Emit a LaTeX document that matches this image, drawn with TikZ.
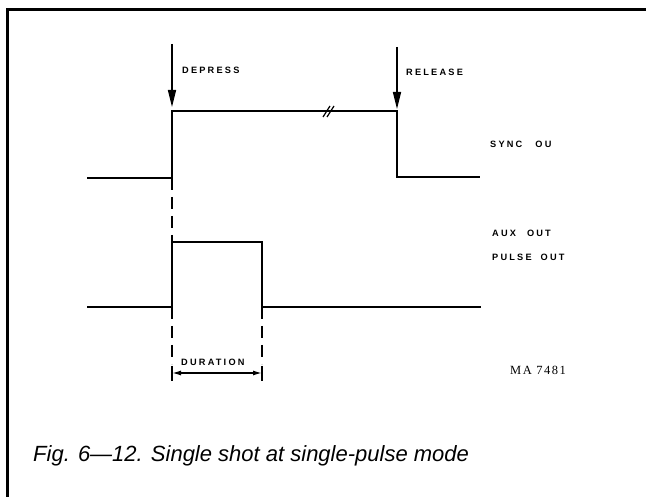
\documentclass[tikz,border=0pt]{standalone}
\usepackage{fontspec}
\setmainfont{Liberation Sans}
\newfontfamily\lblfont[LetterSpace=24]{Liberation Sans}
\newfontfamily\tagfont[LetterSpace=12]{Liberation Serif}
\usetikzlibrary{arrows.meta}

\begin{document}
\begin{tikzpicture}[x=1pt,y=-1pt,
  wave/.style={line width=2.4pt},
  push/.style={-{Triangle[length=17pt,width=8pt]}, line width=1.5pt},
  guide/.style={line width=1.2pt, dash pattern=on 12pt off 7pt},
  lbl/.style={font=\lblfont\bfseries\fontsize{9.2}{10}\selectfont, anchor=west, inner sep=0pt}]
\useasboundingbox (0,0) rectangle (646,497);

% A. Frame, only top and left edge are in the picture
\draw[line width=3pt] (7,497) -- (7,10) -- (646,10);

% B. Sync out waveform with a break mark on the high level
\coordinate (s0) at (87,178);
\coordinate (sfoot) at (172,178);
\coordinate (sup) at (172,111);
\coordinate (sdown) at (397,111);
\coordinate (s1) at (480,177);
\draw[wave] (s0) -| (sup) -- (sdown) |- (s1);
\draw[line width=1.2pt] (323,117) -- (330,106) (327,117) -- (334,106);

% C. Push arrows with labels
\coordinate (dtop) at (172,44);
\coordinate (rtop) at (397,47);
\draw[push, shorten >=4pt] (dtop) -- (sup);
\draw[push, shorten >=2pt] (rtop) -- (sdown);
\node[lbl] (depress) at (182,70) {DEPRESS};
\node[lbl] (release) at (406,72) {RELEASE};

% D. Pulse waveform
\coordinate (p0) at (87,307);
\coordinate (pup) at (172,242);
\coordinate (pdown) at (262,242);
\coordinate (p1) at (481,307);
\draw[wave] (p0) -| (pup) -- (pdown) |- (p1);

% E. Output names on the right
\node[lbl] (sync) at (490,144) {SYNC\hspace{13pt}OU};
\node[lbl] (aux) at (492,233) {AUX\hspace{11pt}OUT};
\node[lbl] (pulse) at (492,257) {PULSE\hspace{9pt}OUT};

% F. Dashed guides and duration
\coordinate (lfoot) at (172,307);
\coordinate (rfoot) at (262,307);
\coordinate (lend) at (172,381);
\coordinate (rend) at (262,381);
\draw[guide] (sfoot) -- (pup);
\draw[guide] (lfoot) -- (172,364);
\draw[guide] (rfoot) -- (262,364);
\draw[line width=1.2pt] (172,366) -- (lend) (262,366) -- (rend);
\draw[{Latex[length=9pt,width=5pt]}-{Latex[length=9pt,width=5pt]}, line width=1.4pt] (172,373) -- (262,373);
\node[lbl] (duration) at (181,362) {DURATION};

\node[font=\tagfont\fontsize{12.5}{14}\selectfont, anchor=west, inner sep=0pt] (tag) at (510,370) {MA 7481};

% G. Caption
\node[font=\fontsize{22}{26}\selectfont\itshape, anchor=west, inner sep=0pt] (caption) at (33,456) {Fig. 6—12. Single shot at single-pulse mode};
\end{tikzpicture}
\end{document}
